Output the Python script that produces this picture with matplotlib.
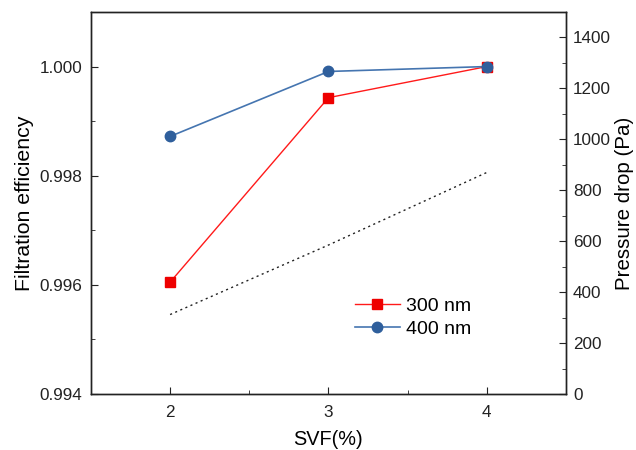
import matplotlib

matplotlib.use("Agg")

import matplotlib.pyplot as plt
from matplotlib.ticker import MultipleLocator

SVF = [2, 3, 4]
EFF_300 = [0.99605, 0.99943, 1.0000]
EFF_400 = [0.99872, 0.99991, 1.0000]
PRESSURE = [312, 585, 870]

plt.rcParams["font.family"] = ["Liberation Sans", "DejaVu Sans"]

fig = plt.figure(figsize=(6.36, 4.5), dpi=100)
ax = fig.add_axes([0.143, 0.1244, 0.747, 0.849])
ax2 = ax.twinx()

ax.plot(SVF, EFF_300, color="#ff1a1a", linewidth=1.0, marker="s",
        markersize=7, markerfacecolor="#ee0000", markeredgecolor="#ee0000", label="300 nm")
ax.plot(SVF, EFF_400, color="#4575b0", linewidth=1.2, marker="o",
        markersize=7.5, markerfacecolor="#2f5f9c", markeredgecolor="#2f5f9c", label="400 nm")
ax2.plot(SVF, PRESSURE, color="#222222", linewidth=1.0, linestyle=(0, (1.5, 2.5)))

ax.set_xlim(1.5, 4.5)
ax.set_ylim(0.994, 1.001)
ax2.set_ylim(0, 1500)

ax.set_xticks(SVF)
ax.xaxis.set_minor_locator(MultipleLocator(0.5))
ax.set_yticks([0.994, 0.996, 0.998, 1.000])
ax.set_yticklabels(["0.994", "0.996", "0.998", "1.000"])
ax.yaxis.set_minor_locator(MultipleLocator(0.001))
ax2.set_yticks(range(0, 1401, 200))
ax2.yaxis.set_minor_locator(MultipleLocator(100))

for a in (ax, ax2):
    a.tick_params(which="both", direction="in", labelsize=12.3, colors="#222222")
    a.tick_params(which="major", length=5)
    a.tick_params(which="minor", length=3)
    for s in a.spines.values():
        s.set_color("#222222")
        s.set_linewidth(1.0)
ax.tick_params(axis="x", pad=8)
ax.tick_params(axis="y", pad=6)
ax2.tick_params(axis="y", pad=5)

ax.set_xlabel("SVF(%)", fontsize=14.3, labelpad=7)
ax.set_ylabel("Filtration efficiency", fontsize=15.3, labelpad=4)
ax2.set_ylabel("Pressure drop (Pa)", fontsize=14.8, labelpad=3)

ax.legend(loc="upper left", bbox_to_anchor=(355 / 636, 1 - 297 / 450),
          bbox_transform=fig.transFigure, frameon=False, borderpad=0,
          borderaxespad=0, fontsize=14, handlelength=2.3, handletextpad=0.3,
          labelspacing=0.3)

fig.savefig("out.png", dpi=100)
